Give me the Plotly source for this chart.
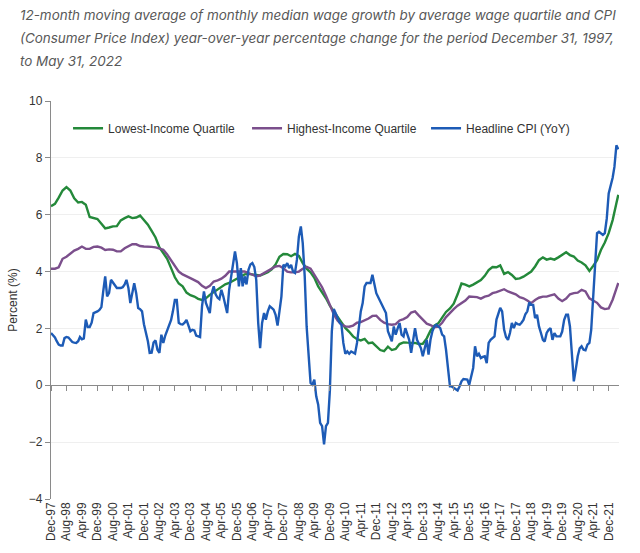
import pandas as pd
import plotly.graph_objects as go

# ---------------- data ----------------
months = pd.date_range("1997-12-01", periods=294, freq="MS")  # Dec-97 .. May-22

# Headline CPI (YoY), monthly, Dec-97 .. May-22
cpi = [
    1.84, 1.75, 1.68, 1.55, 1.43, 1.40, 1.40, 1.66, 1.70, 1.68, 1.60, 1.52,
    1.50, 1.49, 1.55, 1.70, 1.62, 1.65, 2.31, 2.05, 2.05, 2.20, 2.54, 2.56,
    2.60, 2.65, 2.75, 3.30, 3.83, 3.13, 3.25, 3.71, 3.60, 3.48, 3.42, 3.42,
    3.42, 3.45, 3.55, 3.71, 3.42, 2.89, 3.30, 3.59, 3.24, 2.72, 2.68, 2.60,
    2.15, 1.85, 1.55, 1.14, 1.15, 1.50, 1.58, 1.25, 1.14, 1.78, 1.49, 1.75,
    1.95, 2.15, 2.30, 2.60, 3.00, 3.00, 2.20, 2.15, 2.14, 2.20, 2.30, 2.10,
    1.90, 1.95, 1.93, 1.75, 1.72, 1.70, 2.78, 3.30, 2.90, 2.70, 2.54, 3.24,
    3.48, 3.20, 3.08, 3.03, 3.36, 3.13, 2.78, 2.54, 3.36, 3.77, 4.30, 4.71,
    4.30, 3.48, 4.12, 3.48, 3.83, 3.55, 4.06, 4.25, 4.30, 4.16, 3.71, 2.19,
    1.31, 2.19, 2.54, 2.31, 2.60, 2.78, 2.72, 2.66, 2.48, 2.10, 2.60, 3.13,
    4.24, 4.18, 4.30, 4.12, 4.24, 4.00, 3.95, 4.41, 5.23, 5.59, 5.00, 3.83,
    2.07, 1.02, 0.08, 0.02, 0.20, -0.39, -0.68, -1.32, -1.44, -2.08, -1.44, -1.32,
    -0.20, 1.90, 2.68, 2.54, 2.37, 2.21, 2.13, 1.49, 1.11, 1.19, 1.11, 1.19,
    1.15, 1.11, 1.49, 2.13, 2.60, 2.89, 3.48, 3.60, 3.60, 3.60, 3.89, 3.60,
    3.24, 3.10, 2.95, 2.87, 2.70, 2.54, 1.90, 1.72, 1.55, 2.07, 1.78, 2.00,
    2.19, 1.78, 1.72, 2.01, 1.80, 1.60, 1.14, 1.60, 2.01, 1.60, 1.45, 1.31,
    1.02, 1.37, 1.60, 1.08, 1.60, 1.90, 2.07, 2.13, 2.05, 2.01, 1.78, 1.72,
    1.25, 0.67, -0.04, -0.04, -0.09, -0.12, -0.18, -0.04, 0.14, 0.22, 0.20, 0.20,
    0.02, 0.32, 0.61, 1.37, 1.02, 1.11, 0.96, 1.00, 1.02, 0.78, 1.49, 1.60,
    1.65, 1.72, 2.31, 2.50, 2.72, 2.60, 1.96, 1.70, 1.60, 1.84, 2.19, 2.01,
    2.19, 2.15, 2.13, 2.20, 2.30, 2.50, 2.60, 2.91, 2.83, 2.83, 2.36, 2.48,
    2.07, 1.84, 1.60, 1.54, 1.84, 1.95, 2.01, 1.60, 1.84, 1.72, 1.72, 1.72,
    1.89, 2.30, 2.48, 2.48, 2.07, 1.25, 0.14, 0.55, 1.02, 1.30, 1.37, 1.25,
    1.23, 1.43, 1.49, 1.95, 3.12, 4.18, 5.35, 5.40, 5.35, 5.29, 5.35, 5.87,
    6.75, 6.98, 7.30, 7.68, 8.44, 8.30,
]

# wage series sampled every 2 months (Dec-97, Feb-98, ... Apr-22) plus May-22
wage_months = list(months[0:293:2]) + [months[293]]

lowest = [
    6.30, 6.38, 6.60, 6.85, 6.97, 6.85, 6.58, 6.43, 6.45, 6.35,
    5.92, 5.88, 5.85, 5.68, 5.52, 5.55, 5.59, 5.60, 5.80, 5.88,
    5.94, 5.88, 5.90, 5.97, 5.82, 5.65, 5.43, 5.20, 4.85, 4.65,
    4.45, 4.12, 3.80, 3.58, 3.48, 3.26, 3.17, 3.12, 3.04, 3.00,
    3.06, 3.18, 3.28, 3.37, 3.47, 3.55, 3.60, 3.68, 3.74, 3.82,
    3.90, 3.92, 3.90, 3.87, 3.86, 3.92, 3.98, 4.08, 4.25, 4.52,
    4.62, 4.61, 4.54, 4.62, 4.55, 4.30, 4.10, 3.97, 3.78, 3.48,
    3.28, 3.06, 2.80, 2.60, 2.43, 2.20, 2.02, 1.88, 1.72, 1.62,
    1.58, 1.63, 1.48, 1.50, 1.36, 1.24, 1.20, 1.36, 1.24, 1.28,
    1.45, 1.51, 1.50, 1.49, 1.49, 1.45, 1.46, 1.65, 1.92, 2.10,
    2.18, 2.38, 2.58, 2.70, 2.87, 3.20, 3.58, 3.54, 3.48, 3.54,
    3.62, 3.70, 3.85, 4.05, 4.16, 4.15, 4.22, 3.92, 3.98, 3.88,
    3.74, 3.76, 3.82, 3.92, 4.00, 4.18, 4.40, 4.50, 4.42, 4.46,
    4.42, 4.50, 4.58, 4.68, 4.58, 4.53, 4.39, 4.32, 4.22, 4.02,
    4.20, 4.40, 4.76, 5.02, 5.35, 5.81, 6.40,
    6.70,
]

highest = [
    4.10, 4.10, 4.15, 4.45, 4.52, 4.63, 4.74, 4.80, 4.88, 4.80,
    4.80, 4.87, 4.88, 4.84, 4.76, 4.78, 4.77, 4.71, 4.71, 4.82,
    4.90, 4.96, 4.96, 4.90, 4.88, 4.88, 4.87, 4.85, 4.80, 4.77,
    4.60, 4.40, 4.20, 4.00, 3.90, 3.82, 3.77, 3.70, 3.63, 3.50,
    3.42, 3.50, 3.65, 3.69, 3.75, 3.85, 4.00, 4.00, 4.00, 4.00,
    4.00, 3.95, 3.88, 3.83, 3.87, 3.95, 4.02, 4.10, 4.18, 4.20,
    4.12, 4.00, 3.97, 3.97, 4.00, 4.10, 4.17, 4.10, 3.88, 3.65,
    3.45, 3.15, 2.80, 2.50, 2.28, 2.14, 2.07, 2.06, 2.10, 2.20,
    2.22, 2.28, 2.35, 2.44, 2.45, 2.30, 2.20, 2.15, 2.13, 2.15,
    2.28, 2.33, 2.40, 2.56, 2.60, 2.45, 2.30, 2.17, 2.12, 2.04,
    2.06, 2.20, 2.40, 2.56, 2.68, 2.80, 2.88, 2.98, 3.12, 3.12,
    3.10, 3.05, 3.12, 3.15, 3.24, 3.28, 3.34, 3.38, 3.30, 3.24,
    3.20, 3.10, 3.06, 2.98, 2.89, 3.00, 3.08, 3.12, 3.12, 3.16,
    3.20, 3.05, 2.96, 3.05, 3.20, 3.24, 3.26, 3.36, 3.30, 3.06,
    2.97, 2.90, 2.74, 2.68, 2.70, 3.01, 3.40,
    3.60,
]

tick_dates = list(months[0:289:8])
tick_labels = [d.strftime("%b-%y") for d in tick_dates]

series_names = ["Lowest-Income Quartile", "Highest-Income Quartile", "Headline CPI (YoY)"]
colors = ["#24893a", "#7b4f8c", "#1d5bb6"]

title_lines = [
    "12-month moving average of monthly median wage growth by average wage quartile and CPI",
    "(Consumer Price Index) year-over-year percentage change for the period December 31, 1997,",
    "to May 31, 2022",
]

# ---------------- figure ----------------
W, H = 640, 553
ML, MR, MT, MB = 45, 21, 101, 54
PH = H - MT - MB

fig = go.Figure()
fig.add_trace(go.Scatter(x=wage_months, y=lowest, name=series_names[0], mode="lines",
                         line=dict(color=colors[0], width=2.4)))
fig.add_trace(go.Scatter(x=wage_months, y=highest, name=series_names[1], mode="lines",
                         line=dict(color=colors[1], width=2.4)))
fig.add_trace(go.Scatter(x=list(months), y=cpi, name=series_names[2], mode="lines",
                         line=dict(color=colors[2], width=2.4)))
# carrier for the tick marks on the zero line
fig.add_trace(go.Scatter(x=[months[0]], y=[None], xaxis="x2", yaxis="y", mode="lines",
                         showlegend=False, hoverinfo="skip"))

xr = [months[0], pd.Timestamp("2022-05-12")]
axis_font = dict(family="Liberation Sans", size=12, color="#333333")

fig.update_layout(
    width=W, height=H,
    margin=dict(l=ML, r=MR, t=MT, b=MB, pad=0),
    paper_bgcolor="white", plot_bgcolor="white",
    font=axis_font,
    xaxis=dict(type="date", range=xr, tickmode="array", tickvals=tick_dates, ticktext=tick_labels,
               tickangle=-90, ticks="", showgrid=False, showline=False, zeroline=False,
               tickfont=axis_font),
    xaxis2=dict(type="date", range=xr, overlaying="x", anchor="free", position=4 / 14,
                tickmode="array", tickvals=tick_dates, showticklabels=False,
                ticks="outside", ticklen=5, tickcolor="#8a8a8a", tickwidth=1,
                showline=True, linecolor="#8a8a8a", linewidth=1.3, showgrid=False, zeroline=False),
    yaxis=dict(range=[-4, 10], tickvals=[-4, -2, 0, 2, 4, 6, 8, 10], showgrid=True,
               gridcolor="#efefef", gridwidth=1, zeroline=False, showline=True,
               linecolor="#8a8a8a", linewidth=1.3, ticks="outside", ticklen=5,
               tickcolor="#8a8a8a", tickfont=axis_font,
               title=dict(text="Percent (%)", font=axis_font, standoff=8)),
    legend=dict(orientation="h", x=0.03, y=0.968, xanchor="left", yanchor="top",
                font=dict(family="Liberation Sans", size=12, color="#333333"),
                bgcolor="rgba(0,0,0,0)", itemwidth=30, entrywidth=134, entrywidthmode="pixels"),
    showlegend=True,
)

for i, line in enumerate(title_lines):
    ypix = 15 + i * 23
    fig.add_annotation(text="<i>" + line + "</i>", xref="paper", yref="paper",
                       x=(12 - ML) / (W - ML - MR), y=1 + (MT - ypix) / PH,
                       xanchor="left", yanchor="middle", showarrow=False,
                       font=dict(family="Inter", size=13.45, color="#585858"))

fig.write_html("out.html")
